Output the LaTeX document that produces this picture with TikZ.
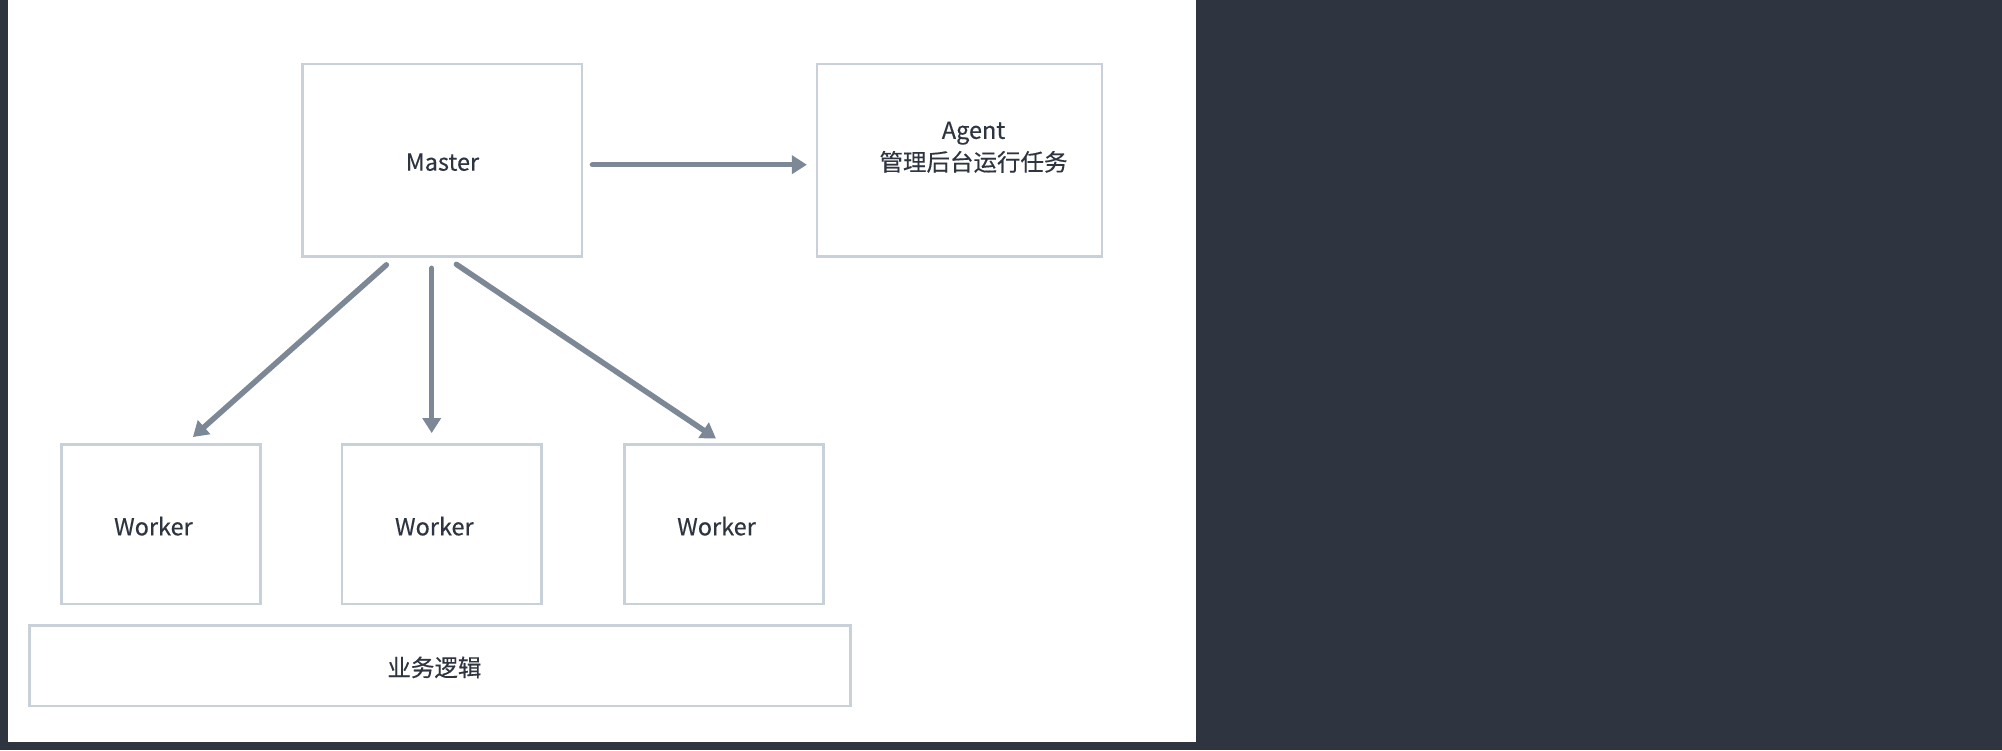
\documentclass[tikz,border=0pt]{standalone}
\usepackage{fontspec}
\setmainfont{Noto Sans CJK SC}[FakeBold=0.3]
\usetikzlibrary{arrows.meta,positioning}
\definecolor{night}{HTML}{2E3440}
\definecolor{edge}{HTML}{C8D1DA}
\definecolor{flowgray}{HTML}{7C8896}

\begin{document}
\begin{tikzpicture}
   [x=1pt,y=-1pt,
    box/.style={draw=edge,line width=2.5pt,fill=white,inner sep=0pt},
    lbl/.style={text=night,font=\fontsize{23.5}{32}\selectfont,align=center,inner sep=0pt},
    flow/.style={draw=flowgray,line width=5.5pt,line cap=round,
           -{Triangle[length=15pt,width=18pt]}}]
% page and sheet
\fill[night] (0,0) rectangle (2002,750);
\fill[white] (7.5,0) rectangle (1195.5,741.5);
\useasboundingbox (0,0) rectangle (2002,750);

\node[box,minimum width=279.6pt,minimum height=192.8pt] (master) at (442.4,160.2) {};
\node[box,minimum width=284.7pt,minimum height=192.8pt] (agent) at (959.5,160.2) {};
\node[box,minimum width=199.2pt,minimum height=159.6pt] (w1) at (160.9,524.1) {};
\node[box,minimum width=199.2pt,minimum height=159.6pt] (w2) at (441.8,524.1) {};
\node[box,minimum width=199.2pt,minimum height=159.6pt] (w3) at (724.0,524.1) {};
\node[box,minimum width=821pt,minimum height=80.5pt] (biz) at (439.9,665.9) {};

\node[lbl] at ([yshift=-2pt]master) {Master};
\node[lbl] at ([xshift=14pt,yshift=13pt]agent) {Agent\\管理后台运行任务};
\foreach \w in {w1,w2,w3}
   \node[lbl] at ([xshift=-7.5pt,yshift=-2pt]\w) {Worker};
\node[lbl] at ([xshift=-5.5pt,yshift=-1.5pt]biz) {业务逻辑};

\draw[flow] ([xshift=9pt,yshift=-4.5pt]master.east) -- ([xshift=-9pt,yshift=-4.5pt]agent.west);
\draw[flow] ([xshift=-56pt,yshift=-7pt]master.south) -- ([xshift=32pt,yshift=6pt]w1.north);
\draw[flow] ([xshift=-10.7pt,yshift=-10.5pt]master.south) -- ([xshift=-10.1pt,yshift=10pt]w2.north);
\draw[flow] ([xshift=14pt,yshift=-6.5pt]master.south) -- ([xshift=-8pt,yshift=4.5pt]w3.north);
\end{tikzpicture}
\end{document}
